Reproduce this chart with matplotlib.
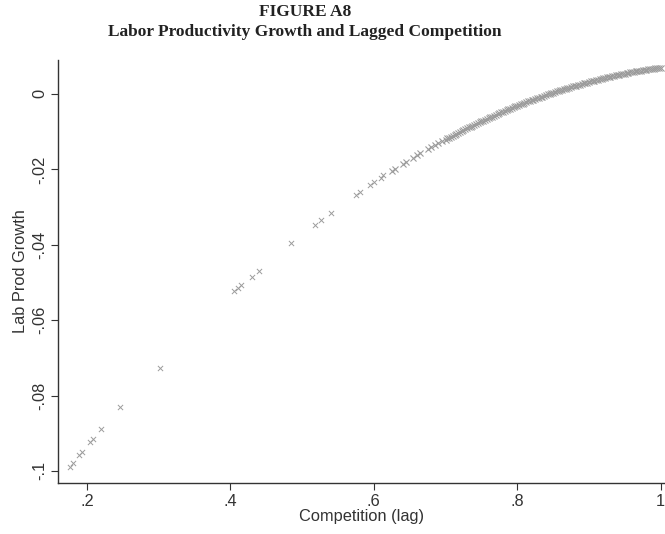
import matplotlib
matplotlib.use("Agg")
import matplotlib.pyplot as plt

# --- data ---
comp_sparse = [0.176, 0.180, 0.189, 0.1925, 0.204, 0.209, 0.2195, 0.246, 0.302,
               0.405, 0.41, 0.415, 0.43, 0.44, 0.485, 0.518, 0.527, 0.540,
               0.5745, 0.581, 0.595, 0.600, 0.610, 0.613]
lpg_sparse = [-0.0990, -0.0980, -0.0958, -0.0949, -0.0922, -0.0916, -0.0889, -0.0830, -0.0727,
              -0.0524, -0.0515, -0.0507, -0.0485, -0.0470, -0.0395, -0.0347, -0.0334, -0.0316,
              -0.0268, -0.0260, -0.0241, -0.0233, -0.0223, -0.0215]

comp_dense = [0.625, 0.63, 0.64, 0.645, 0.655, 0.66, 0.665, 0.675, 0.68, 0.685,
              0.69, 0.695, 0.70, 0.705, 0.71, 0.715, 0.72, 0.725, 0.73, 0.735,
              0.74, 0.745, 0.75, 0.755, 0.76, 0.765, 0.77, 0.775, 0.78, 0.785,
              0.79, 0.795, 0.80, 0.805, 0.81, 0.815, 0.82, 0.825, 0.83, 0.835,
              0.84, 0.845, 0.85, 0.855, 0.86, 0.865, 0.87, 0.875, 0.88, 0.885,
              0.89, 0.895, 0.90, 0.905, 0.91, 0.915, 0.92, 0.925, 0.93, 0.935,
              0.94, 0.945, 0.95, 0.955, 0.96, 0.965, 0.97, 0.975, 0.98, 0.985,
              0.99, 0.995, 1.0]
lpg_dense = [-0.0204, -0.0198, -0.0186, -0.0180, -0.0169, -0.0163, -0.0158, -0.0147, -0.0141, -0.0136,
             -0.0131, -0.0126, -0.0121, -0.0116, -0.0111, -0.0106, -0.0101, -0.0096, -0.0091, -0.0087,
             -0.0082, -0.0077, -0.0073, -0.0069, -0.0064, -0.0060, -0.0056, -0.0051, -0.0047, -0.0043,
             -0.0039, -0.0035, -0.0032, -0.0028, -0.0024, -0.0020, -0.0017, -0.0013, -0.0010, -0.0007,
             -0.0003, 0.0000, 0.0003, 0.0007, 0.0010, 0.0013, 0.0016, 0.0018, 0.0021, 0.0024,
             0.0027, 0.0029, 0.0032, 0.0034, 0.0037, 0.0039, 0.0042, 0.0044, 0.0046, 0.0048,
             0.0050, 0.0052, 0.0054, 0.0056, 0.0058, 0.0060, 0.0061, 0.0063, 0.0064, 0.0066,
             0.0067, 0.0069, 0.0070]

comp_dense2 = [0.7025, 0.7075, 0.7125, 0.7175, 0.7225, 0.7275, 0.7325, 0.7375, 0.7425, 0.7475,
               0.7525, 0.7575, 0.7625, 0.7675, 0.7725, 0.7775, 0.7825, 0.7875, 0.7925, 0.7975,
               0.8025, 0.8075, 0.8125, 0.8175, 0.8225, 0.8275, 0.8325, 0.8375, 0.8425, 0.8475,
               0.8525, 0.8575, 0.8625, 0.8675, 0.8725, 0.8775, 0.8825, 0.8875, 0.8925, 0.8975,
               0.9025, 0.9075, 0.9125, 0.9175, 0.9225, 0.9275, 0.9325, 0.9375, 0.9425, 0.9475,
               0.9525, 0.9575, 0.9625, 0.9675, 0.9725, 0.9775, 0.9825, 0.9875, 0.9925, 0.9975]
lpg_dense2 = [-0.0118, -0.0113, -0.0108, -0.0103, -0.0098, -0.0093, -0.0089, -0.0084, -0.0079, -0.0075,
              -0.0071, -0.0066, -0.0062, -0.0058, -0.0053, -0.0049, -0.0045, -0.0041, -0.0037, -0.0033,
              -0.0030, -0.0026, -0.0022, -0.0018, -0.0015, -0.0011, -0.0008, -0.0005, -0.0001, 0.0002,
              0.0005, 0.0008, 0.0011, 0.0014, 0.0017, 0.0020, 0.0022, 0.0025, 0.0028, 0.0030,
              0.0033, 0.0035, 0.0038, 0.0040, 0.0043, 0.0045, 0.0047, 0.0049, 0.0051, 0.0053,
              0.0055, 0.0057, 0.0059, 0.0060, 0.0062, 0.0063, 0.0065, 0.0066, 0.0068, 0.0069]

x_ticks = [0.2, 0.4, 0.6, 0.8, 1.0]
x_tick_labels = [".2", ".4", ".6", ".8", "1"]
y_ticks = [0.0, -0.02, -0.04, -0.06, -0.08, -0.1]
y_tick_labels = ["0", "-.02", "-.04", "-.06", "-.08", "-.1"]

W, H = 665, 534
fig = plt.figure(figsize=(W / 100, H / 100), dpi=100)
ax = fig.add_axes([58 / W, 1 - 483 / H, (665 - 58) / W, (483 - 60) / H])

mcol = "#9c9c9c"
ax.scatter(comp_sparse, lpg_sparse, marker="x", s=14, linewidths=0.7, color=mcol)
ax.scatter(comp_dense, lpg_dense, marker="x", s=19, linewidths=0.8, color=mcol)
ax.scatter(comp_dense2, lpg_dense2, marker="x", s=19, linewidths=0.8, color=mcol)

ax.set_xlim(0.1596, 1.006)
ax.set_ylim(-0.1032, 0.009)

for s in ["top", "right"]:
    ax.spines[s].set_visible(False)
for s in ["left", "bottom"]:
    ax.spines[s].set_color("#333333")
    ax.spines[s].set_linewidth(1.0)

tfont = "Liberation Sans"
tcol = "#333333"
ax.set_xticks(x_ticks)
ax.set_xticklabels(x_tick_labels, fontsize=11.8, family=tfont, color=tcol)
ax.set_yticks(y_ticks)
ax.set_yticklabels(y_tick_labels, fontsize=11.8, family=tfont, color=tcol,
                   rotation=90, va="center")
ax.tick_params(direction="out", length=5, width=0.8, color=tcol, pad=3)

ax.set_xlabel("Competition (lag)", fontsize=11.8, family=tfont, color=tcol, labelpad=0)
ax.set_ylabel("Lab Prod Growth", fontsize=11.8, family=tfont, color=tcol, labelpad=3)

fig.text(305 / W, 1 - 12 / H, "FIGURE A8", ha="center", va="center",
         family="Liberation Serif", fontweight="bold", fontsize=12.5, color="#222222")
fig.text(305 / W, 1 - 32 / H, "Labor Productivity Growth and Lagged Competition",
         ha="center", va="center", family="Liberation Serif", fontweight="bold",
         fontsize=12.5, color="#222222")

fig.savefig("out.png", dpi=100)
